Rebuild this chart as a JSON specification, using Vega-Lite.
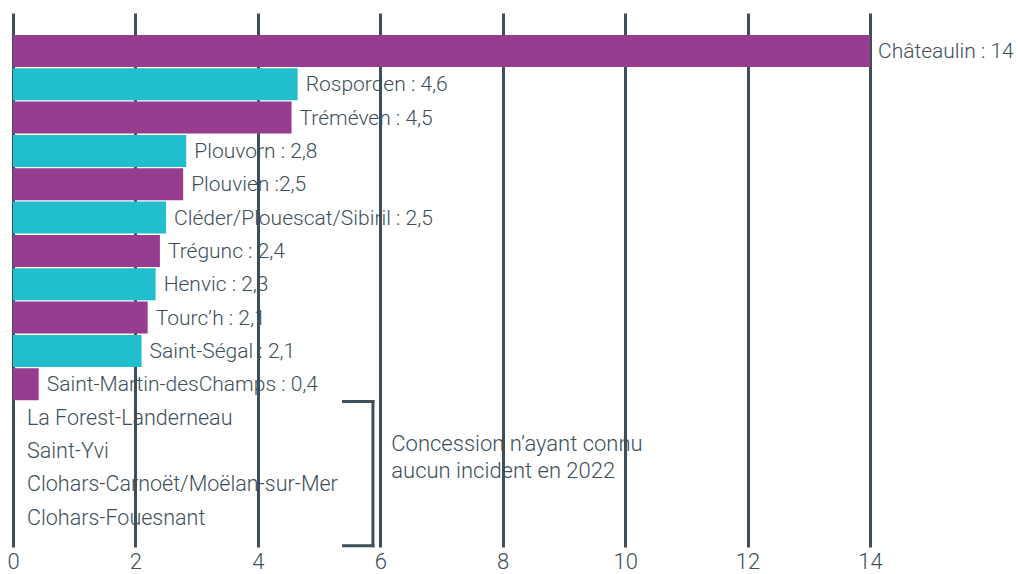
{
  "$schema": "https://vega.github.io/schema/vega-lite/v6.json",
  "autosize": {"type": "none"},
  "width": 857,
  "height": 534,
  "padding": {"left": 13, "top": 13, "right": 150, "bottom": 27},
  "background": "white",
  "config": {"view": {"stroke": null}, "font": "Roboto"},
  "data": {
    "values": [
      {"commune": "Châteaulin", "value": 14, "groupe": "a", "label": "Châteaulin : 14"},
      {"commune": "Rosporden", "value": 4.65, "groupe": "b", "label": "Rosporden : 4,6"},
      {"commune": "Tréméven", "value": 4.55, "groupe": "a", "label": "Tréméven : 4,5"},
      {"commune": "Plouvorn", "value": 2.83, "groupe": "b", "label": "Plouvorn : 2,8"},
      {"commune": "Plouvien", "value": 2.78, "groupe": "a", "label": "Plouvien :2,5"},
      {"commune": "Cléder/Plouescat/Sibiril", "value": 2.5, "groupe": "b", "label": "Cléder/Plouescat/Sibiril : 2,5"},
      {"commune": "Trégunc", "value": 2.4, "groupe": "a", "label": "Trégunc : 2,4"},
      {"commune": "Henvic", "value": 2.33, "groupe": "b", "label": "Henvic : 2,3"},
      {"commune": "Tourc’h", "value": 2.2, "groupe": "a", "label": "Tourc’h : 2,1"},
      {"commune": "Saint-Ségal", "value": 2.1, "groupe": "b", "label": "Saint-Ségal : 2,1"},
      {"commune": "Saint-Martin-des-Champs", "value": 0.42, "groupe": "a", "label": "Saint-Martin-desChamps : 0,4"},
      {"commune": "La Forest-Landerneau", "value": null, "groupe": "none", "label": "La Forest-Landerneau"},
      {"commune": "Saint-Yvi", "value": null, "groupe": "none", "label": "Saint-Yvi"},
      {"commune": "Clohars-Carnoët/Moëlan-sur-Mer", "value": null, "groupe": "none", "label": "Clohars-Carnoët/Moëlan-sur-Mer"},
      {"commune": "Clohars-Fouesnant", "value": null, "groupe": "none", "label": "Clohars-Fouesnant"}
    ]
  },
  "encoding": {
    "y": {
      "field": "commune",
      "type": "nominal",
      "sort": null,
      "axis": null,
      "scale": {
        "domain": ["Châteaulin", "Rosporden", "Tréméven", "Plouvorn", "Plouvien", "Cléder/Plouescat/Sibiril", "Trégunc", "Henvic", "Tourc’h", "Saint-Ségal", "Saint-Martin-des-Champs", "La Forest-Landerneau", "Saint-Yvi", "Clohars-Carnoët/Moëlan-sur-Mer", "Clohars-Fouesnant"],
        "paddingInner": 0.04,
        "paddingOuter": 0.53,
        "align": 0.62
      }
    }
  },
  "layer": [
    {
      "transform": [{"filter": "isValid(datum.value)"}],
      "mark": {"type": "bar"},
      "encoding": {
        "x": {
          "field": "value",
          "type": "quantitative",
          "scale": {"domain": [0, 14], "nice": false},
          "axis": {
            "orient": "bottom",
            "values": [0, 2, 4, 6, 8, 10, 12, 14],
            "format": "d",
            "grid": true,
            "gridColor": "#3d4f5a",
            "gridWidth": 3,
            "domain": false,
            "ticks": false,
            "labelFontSize": 22,
            "labelColor": "#3d4f5a",
            "labelPadding": 4,
            "labelFlush": false,
            "labelFont": "Roboto",
            "labelFontWeight": 300,
            "title": null
          }
        },
        "color": {
          "field": "groupe",
          "type": "nominal",
          "scale": {"domain": ["a", "b"], "range": ["#973d8f", "#21bece"]},
          "legend": null
        }
      }
    },
    {
      "transform": [{"filter": "isValid(datum.value)"}],
      "mark": {"type": "text", "align": "left", "baseline": "middle", "dx": 8, "dy": 1, "fontSize": 21, "color": "#3d4f5a", "font": "Roboto", "fontWeight": 300},
      "encoding": {
        "x": {"field": "value", "type": "quantitative"},
        "text": {"field": "label"}
      }
    },
    {
      "transform": [{"filter": "!isValid(datum.value)"}],
      "mark": {"type": "text", "align": "left", "baseline": "middle", "dx": 14, "dy": 1, "fontSize": 21.5, "color": "#3d4f5a", "font": "Roboto", "fontWeight": 300},
      "encoding": {
        "x": {"datum": 0, "type": "quantitative"},
        "text": {"field": "label"}
      }
    },
    {
      "data": {"values": [{}]},
      "mark": {"type": "rule", "color": "#3d4f5a", "strokeWidth": 3, "strokeCap": "square"},
      "encoding": {
        "x": {"datum": 5.4, "type": "quantitative"},
        "x2": {"datum": 5.88},
        "y": {"datum": "La Forest-Landerneau", "bandPosition": 0}
      }
    },
    {
      "data": {"values": [{}]},
      "mark": {"type": "rule", "color": "#3d4f5a", "strokeWidth": 3, "strokeCap": "square"},
      "encoding": {
        "x": {"datum": 5.4, "type": "quantitative"},
        "x2": {"datum": 5.88},
        "y": {"datum": "Clohars-Fouesnant", "bandPosition": 1.38}
      }
    },
    {
      "data": {"values": [{}]},
      "mark": {"type": "rule", "color": "#3d4f5a", "strokeWidth": 3, "strokeCap": "square"},
      "encoding": {
        "x": {"datum": 5.88, "type": "quantitative"},
        "y": {"datum": "La Forest-Landerneau", "bandPosition": 0},
        "y2": {"datum": "Clohars-Fouesnant", "bandPosition": 1.38}
      }
    },
    {
      "data": {"values": [{"note": ["Concession n’ayant connu", "aucun incident en 2022"]}]},
      "mark": {"type": "text", "align": "left", "baseline": "middle", "fontSize": 22, "lineHeight": 27, "color": "#3d4f5a", "font": "Roboto", "fontWeight": 300},
      "encoding": {
        "x": {"datum": 6.18, "type": "quantitative"},
        "y": {"datum": "Saint-Yvi", "bandPosition": 0.28},
        "text": {"field": "note"}
      }
    }
  ]
}
